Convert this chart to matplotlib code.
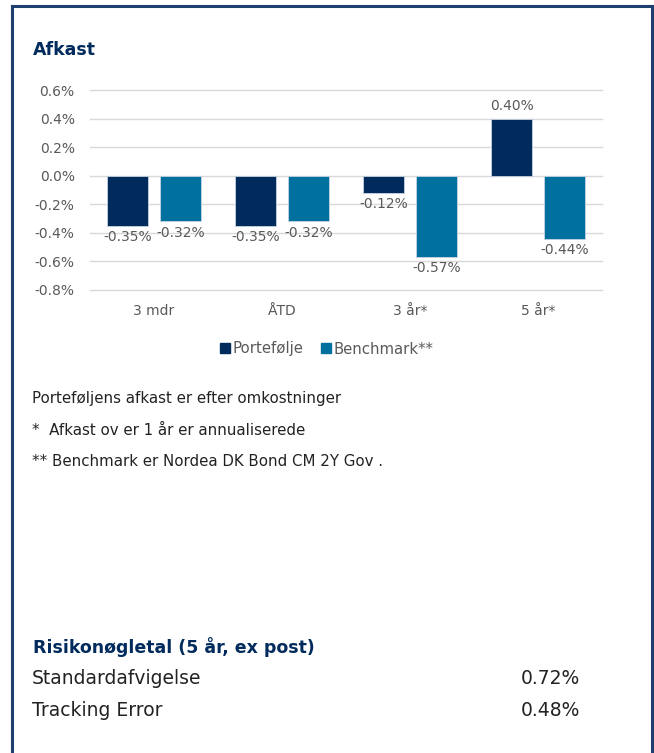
import numpy as np
import matplotlib.pyplot as plt
from matplotlib.lines import Line2D

# data
categories = ["3 mdr", "ÅTD", "3 år*", "5 år*"]
portefolje = [-0.35, -0.35, -0.12, 0.40]
benchmark = [-0.32, -0.32, -0.57, -0.44]
series_names = ["Portefølje", "Benchmark**"]
y_ticks = [0.6, 0.4, 0.2, 0.0, -0.2, -0.4, -0.6, -0.8]

notes = ["Porteføljens afkast er efter omkostninger",
         "*  Afkast ov er 1 år er annualiserede",
         "** Benchmark er Nordea DK Bond CM 2Y Gov ."]
risk_labels = ["Standardafvigelse", "Tracking Error"]
risk_values = ["0.72%", "0.48%"]

navy = "#002b5c"
teal = "#00709e"
grey = "#595959"

W, H = 654, 753
plt.rcParams['font.family'] = ['DejaVu Sans']
fig = plt.figure(figsize=(W / 100, H / 100), dpi=100)

def fx(px):
    return px / W

def fy(py):
    return 1 - py / H

# frame round the panel
frame = dict(color="#1f3f6e", linewidth=2.2)
fig.add_artist(Line2D([fx(12), fx(652)], [fy(6), fy(6)], **frame))
fig.add_artist(Line2D([fx(12), fx(12)], [fy(6), fy(760)], **frame))
fig.add_artist(Line2D([fx(652), fx(652)], [fy(6), fy(760)], **frame))

fig.text(fx(33), fy(50), "Afkast", fontsize=12.5, fontweight="bold", color=navy, va="center")

ax = fig.add_axes([fx(90), fy(290), fx(602 - 90), (290 - 90) / H])
x = np.arange(len(categories))
w = 0.32
off = 0.207
b1 = ax.bar(x - off, portefolje, w, color=navy, edgecolor="#c8d3e0", linewidth=0.6, zorder=3)
b2 = ax.bar(x + off, benchmark, w, color=teal, edgecolor="#c8d3e0", linewidth=0.6, zorder=3)

for bars, vals in [(b1, portefolje), (b2, benchmark)]:
    for rect, v in zip(bars, vals):
        cx = rect.get_x() + rect.get_width() / 2
        if v >= 0:
            ax.annotate(f"{v:.2f}%", (cx, v), xytext=(0, 4), textcoords="offset points",
                        ha="center", va="bottom", fontsize=10, color=grey)
        else:
            ax.annotate(f"{v:.2f}%", (cx, v), xytext=(0, -3), textcoords="offset points",
                        ha="center", va="top", fontsize=10, color=grey)

ax.set_xlim(-0.5, len(categories) - 0.5)
ax.set_ylim(-0.8, 0.6)
ax.set_yticks(y_ticks)
ax.set_yticklabels([f"{t:.1f}%" for t in y_ticks])
ax.set_xticks(x)
ax.set_xticklabels(categories)
ax.tick_params(length=0, labelsize=10, labelcolor=grey, pad=11)
ax.tick_params(axis="x", pad=10)
ax.grid(axis="y", color="#d9d9d9", linewidth=1, zorder=0)
for g in ax.get_ygridlines():
    g.set_clip_on(False)
for s in ax.spines.values():
    s.set_visible(False)

handles = [Line2D([], [], marker="s", linestyle="", color=navy, markersize=7),
           Line2D([], [], marker="s", linestyle="", color=teal, markersize=7)]
fig.legend(handles, series_names, loc="center", bbox_to_anchor=(fx(326), fy(349)), ncol=2,
           frameon=False, fontsize=10.7, labelcolor=grey, handletextpad=0.1,
           columnspacing=1.1, handlelength=0.8)

for i, line in enumerate(notes):
    fig.text(fx(32), fy(399 + 31 * i), line, fontsize=10.8, color="#222222", va="center")

fig.text(fx(33), fy(647), "Risikonøgletal (5 år, ex post)", fontsize=12.5,
         fontweight="bold", color=navy, va="center")
for i, (lab, val) in enumerate(zip(risk_labels, risk_values)):
    fig.text(fx(32), fy(679 + 32 * i), lab, fontsize=13.5, color="#222222", va="center")
    fig.text(fx(580), fy(679 + 32 * i), val, fontsize=13.5, color="#222222", va="center", ha="right")

fig.savefig("out.png", dpi=100)
